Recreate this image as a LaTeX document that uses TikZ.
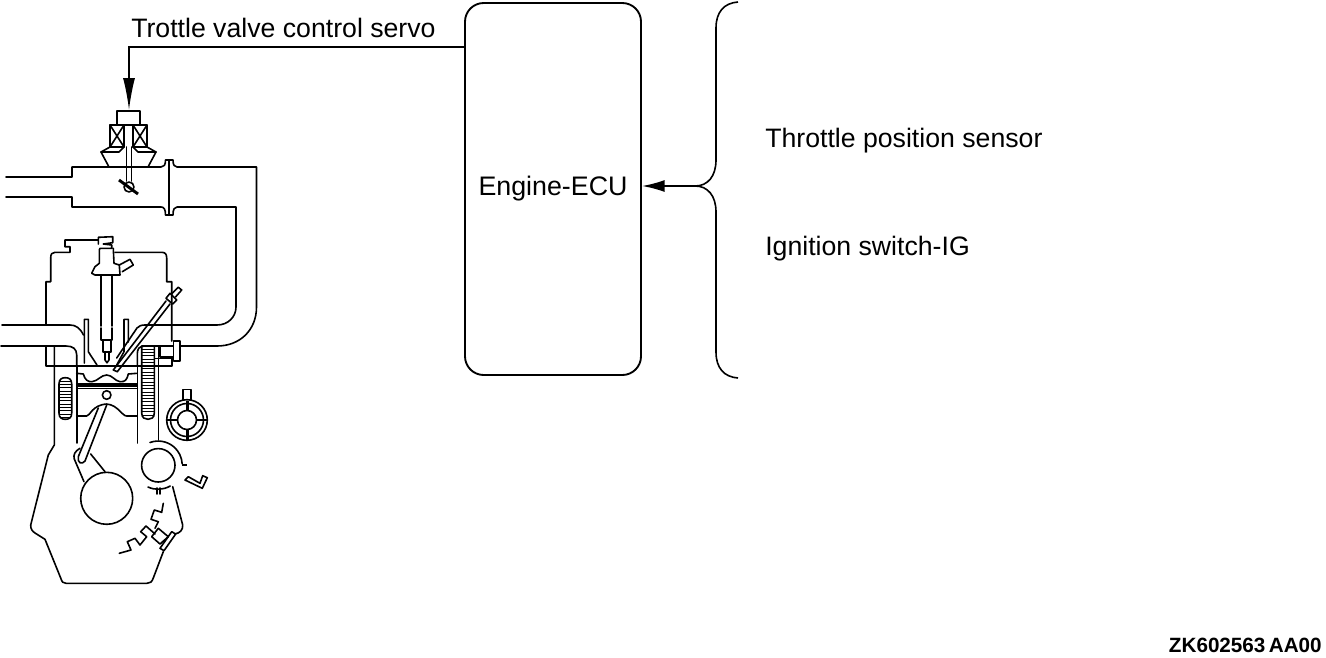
\documentclass[tikz,border=0pt]{standalone}
\usepackage{fontspec}
\setmainfont{Liberation Sans}
\usetikzlibrary{arrows.meta}
\tikzset{
	lbl/.style={anchor=base west,inner sep=0pt,font=\fontsize{20}{24}\selectfont},
	ecubox/.style={draw,line width=1.4pt,rounded corners=14pt,minimum width=132pt,minimum height=279pt,inner sep=0pt,font=\fontsize{20.1}{24}\selectfont},
	sig/.style={line width=1.2pt,-{Latex[length=24pt,width=9pt]}},
	eng/.style={line width=1.2pt,line join=round,line cap=round},
	hatch/.style={line width=0.6pt}
}
\begin{document}
\begin{tikzpicture}[x=0.75pt,y=0.75pt,yscale=-1,xscale=1]
\useasboundingbox (0,0) rectangle (1326,657);

% labels and control box
\node [ecubox] (ecu) at (553,189) {\raisebox{-1.5pt}{Engine-ECU}};
\node [lbl] (servolbl) at (131,37) {Trottle valve control servo};
\node [lbl] (tps) at (765,147) {Throttle position sensor};
\node [lbl] (ig) at (765,255) {Ignition switch-IG};
\node [anchor=east,inner sep=0pt,font=\fontsize{15.5}{18}\selectfont\bfseries] (code) at (1322,645) {ZK602563\,AA00};

\coordinate (ecuout) at (465,47);
\coordinate (servo) at (129,110);
\coordinate (bracetip) at (695,186);
\coordinate (ecuin) at (642,186);

\draw [sig] (ecuout) -| (servo);
\draw [sig,-{Latex[length=17pt,width=9pt]}] (bracetip) -- (ecuin);

% brace
\draw [line width=1.2pt] (738,2) .. controls (724,3) and (716,12) .. (716,28) -- (716,160) .. controls (716,176) and (708,186) .. (695,186) .. controls (708,186) and (716,196) .. (716,212) -- (716,352) .. controls (716,368) and (724,377) .. (738,378);

% throttle servo
\draw [eng] (117,111) rectangle (140,125);
\draw [eng] (110,125) rectangle (124,147);
\draw [eng] (133,125) rectangle (147,147);
\draw [eng] (110,125) -- (124,147) (124,125) -- (110,147);
\draw [eng] (133,125) -- (147,147) (147,125) -- (133,147);
\draw [eng] (110,147) -- (101,152) -- (109,167);
\draw [eng] (101,152) -- (119,152) -- (124,147);
\draw [eng] (147,147) -- (156,152) -- (148,167);
\draw [eng] (156,152) -- (138,152) -- (133,147);
\draw [eng] (126.3,147) -- (126.3,181) (131.3,147) -- (131.3,181);
\draw [line width=2.2pt] (119,180) -- (138,194);
\draw [eng] (129,187) circle (5);

% intake pipe
\draw [eng] (6,177) -- (72,177) -- (72,167) -- (161,167) .. controls (164,167) and (165.5,165) .. (165.5,160) -- (173,160) .. controls (173,165) and (174.5,167) .. (177,167) -- (256.5,167) -- (256.5,307) .. controls (256.5,330) and (240,346) .. (217,346) -- (180,346);
\draw [eng] (6,197) -- (72,197) -- (72,207) -- (161,207) .. controls (164,207) and (165.5,209) .. (165.5,215) -- (173,215) .. controls (173,209) and (174.5,207) .. (177,207) -- (236,207) -- (236,307) .. controls (236,317) and (228,325) .. (217,325) -- (145,325);
\draw [line width=1.6pt] (169,160) -- (169,215);

% cylinder head
\draw [eng] (98,240) -- (65,240) -- (65,246.7) -- (70,246.7) -- (70,252.3) -- (55,252.3) .. controls (52,252.3) and (50.7,254) .. (50.7,258) -- (50.7,281.7) -- (46,281.7) -- (46,325);
\draw [eng] (46,346) -- (46,366) -- (171.7,366) -- (171.7,358);
\draw [eng] (115,252.3) -- (161.7,252.3) .. controls (165,252.3) and (166.7,254) .. (166.7,258) -- (166.7,281.7) -- (171.7,281.7) -- (171.7,341);

% injector
\draw [eng] (98.3,244) -- (98.3,237.3) -- (112.7,236.7) -- (112.7,242.7) -- (103.3,244) -- (111.7,245) -- (111.7,248.3) -- (100,248.3) -- (99.3,250) -- (99.3,263.3) -- (95,266.7) -- (91.7,273.3) -- (95,275) -- (120,275) -- (119.3,265) -- (114,263.3) -- (113.3,248.3);
\draw [eng] (119.3,265) -- (130,259.3) -- (133.3,265) -- (122.3,271.7);
\draw [eng] (101,275) -- (101,326) (111.7,275) -- (111.7,326);
\draw [eng] (101,328) -- (101,340) -- (111.7,340) -- (111.7,328);
\draw [eng] (102.7,340) -- (102.7,351.7) -- (111,351.7) -- (111,340);
\draw [eng] (105,351.7) -- (105,360) -- (107,362.7) -- (109,360) -- (109,351.7);

% ports and valves
\draw [eng] (2,325) -- (70,325) .. controls (76,325) and (80,328) .. (83.5,335);
\draw [eng] (1,346) -- (66,346) .. controls (73,346) and (76.7,349) .. (76.7,355) -- (76.7,366);
\draw [eng] (84.3,363) -- (84.3,319.3) -- (88.3,319.3) -- (88.3,351.7) -- (97,365);
\draw [eng] (116.7,365) -- (124,351.7) -- (124,319.3) -- (128.3,319.3) -- (128.3,342);
\draw [eng] (116.7,358) -- (137,328) .. controls (139,326) and (141,325) .. (145,325);
\draw [eng] (137.3,366) -- (137.3,354) .. controls (137.3,349) and (139,346) .. (145,346) -- (160,346);

% glow plug
\draw [eng] (113.3,370) -- (166,301) (117.3,371.7) -- (170,304);
\draw [eng] (113.3,370) -- (117.3,371.7);
\draw [eng] (166,298.3) -- (170,293.3) -- (176.7,300) -- (172.7,304) -- cycle;
\draw [eng] (172,293.5) -- (178.3,287.3) -- (181.7,290) -- (175.5,297);

% sensor on head
\draw [eng] (160,345.7) rectangle (173.3,356.7);
\draw [eng] (173.3,341) rectangle (180,361);
\draw [eng] (155,358.3) -- (171.7,358.3);

% cylinder walls
\draw [eng] (54.3,346) -- (54.3,445) -- (48.3,455) -- (30.7,525) .. controls (30.7,529) and (32,531) .. (35,533) -- (45,539.3) -- (60.7,578) .. controls (62,582) and (63,583.3) .. (66,583.3) -- (147,583.3) .. controls (150,583.3) and (152,582) .. (153.3,578) -- (163.3,551.7);
\draw [eng] (76.7,366) -- (76.7,443);
\draw [eng] (137.3,366) -- (137.3,443);
\draw [eng] (158.3,346) -- (158.3,440);
\draw [eng] (172.7,486.7) -- (182.7,525) .. controls (183,530) and (180,533) .. (175,534);

% water jackets
\draw [eng] (59,384) .. controls (59,379) and (62,377.7) .. (65.3,377.7) .. controls (69,377.7) and (71.7,379) .. (71.7,384) -- (71.7,413) .. controls (71.7,418) and (69,419.3) .. (65.3,419.3) .. controls (62,419.3) and (59,418) .. (59,413) -- cycle;
\foreach \hy in {381,384.3,...,418} {
	\draw [hatch] (59.5,\hy) -- (71.2,\hy);
}
\draw [eng] (154.3,346) -- (141.7,346) -- (141.7,413) .. controls (141.7,418) and (145,419.3) .. (148,419.3) .. controls (151,419.3) and (154.3,418) .. (154.3,413) -- cycle;
\foreach \hy in {349,352.3,...,418} {
	\draw [hatch] (142.2,\hy) -- (153.8,\hy);
}

% piston
\draw [eng] (76.7,373.3) -- (83.3,374) .. controls (85,380) and (88,382) .. (92,381.7) .. controls (98,381) and (101,375) .. (106.7,375) .. controls (112,375) and (115,381) .. (120,381.7) .. controls (125,382) and (127,380) .. (128.3,374) -- (137,373.3);
\draw [eng] (76.7,384) -- (137.3,384) (76.7,386.2) -- (137.3,386.2) (76.7,388.4) -- (137.3,388.4);
\draw [eng] (106.7,395) circle (4.3);
\draw [eng] (76.7,416) -- (86.7,416) .. controls (90,416) and (92,405) .. (106.7,404) .. controls (118,405) and (122,416) .. (126.7,416) -- (137.3,416);

% rod and crank
\draw [eng] (98.3,408) -- (78.3,456.7) .. controls (77,463) and (82,465) .. (85,461) -- (106.7,405);
\draw [eng] (80,448.3) .. controls (75,451) and (73,455) .. (74.3,459) -- (84,481.7);
\draw [eng] (90.7,454) -- (105,471.7);
\draw [eng] (106.7,498.3) circle (26);

% cam
\draw [eng] (158.3,465.3) circle (16.7);
\draw [eng] (150,442.5) arc[start angle=-110,end angle=-3,radius=24];
\draw [eng] (148,487) arc[start angle=115,end angle=60,radius=24];
\draw [line width=1.6pt] (182,465.3) -- (186.7,465.3);
\draw [eng] (157,488) -- (157,494) (159.7,488) -- (159.7,494);

% key
\draw [eng] (185,480) -- (188.3,476.7) -- (200,483.3) -- (202.7,475.7) -- (207.3,477.7) -- (202.3,488.3) -- cycle;

% crank sensor
\draw [eng] (187,420) circle (20.3);
\draw [eng] (187,420) circle (16.5);
\draw [eng] (187,420) circle (9.5);
\draw [eng] (182.7,400) -- (182.7,389.3) -- (191,389.3) -- (191,400);
\draw [line width=2pt] (187.5,401) -- (187.5,410) (187.5,430) -- (187.5,441);
\draw [line width=2pt] (167,420) -- (177.5,420) (196.5,420) -- (207,420);

% timing chain
\draw [eng] (163.3,503.3) -- (161.7,512.3) -- (154.3,510) -- (151,519.3) -- (158.3,521.7) -- (155,528.3);
\draw [eng] (155,534) -- (146,526) -- (140.7,531.7) -- (146.7,536.7) -- (140,545) -- (135,538.3) -- (127.3,541.7) -- (131,550) -- (119.3,553.3);
\draw [eng] (158.3,528.3) -- (168.3,536.7) -- (160,544) -- (151.7,536.7) -- cycle;
\draw [eng] (171.7,531.7) -- (175.7,534) -- (164,550.7) -- (160,548.3) -- cycle;

\end{tikzpicture}
\end{document}
